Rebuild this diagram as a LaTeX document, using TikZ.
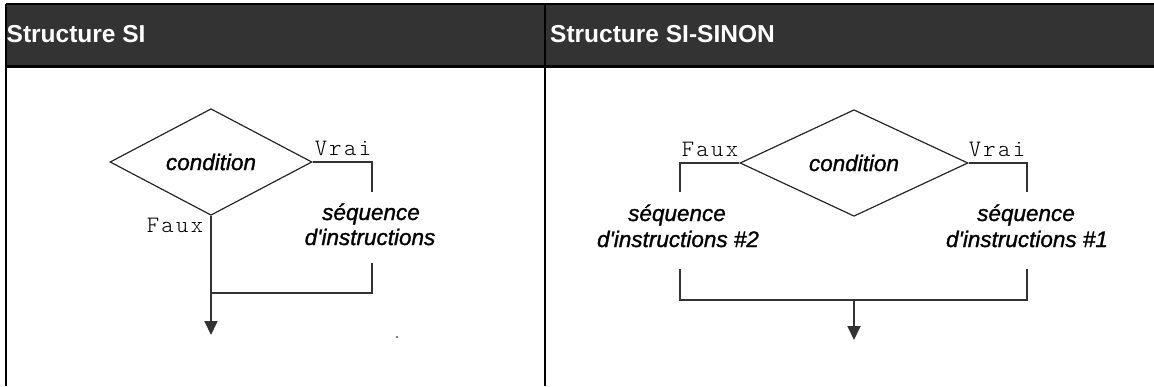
\documentclass[tikz,border=0pt]{standalone}
\usepackage{fontspec}
\usetikzlibrary{arrows.meta,shapes.geometric}
\newfontfamily\hdrfont{Liberation Sans}
\newfontfamily\labfont[ItalicFeatures={FakeBold=1.2}]{Liberation Sans}
\newfontfamily\monofont[LetterSpace=10]{lmmonolt10-regular.otf}
\definecolor{hdrgray}{HTML}{333333}
\definecolor{linegray}{HTML}{333333}
\tikzset{
  border/.style={draw=black,line width=2pt},
  hdrtext/.style={anchor=base west,inner sep=0pt,text=white,font=\hdrfont\bfseries\fontsize{24.5}{28}\selectfont},
  cond/.style={diamond,draw=black!85,line width=1.2pt,inner sep=0pt,font=\labfont\itshape\fontsize{22.5}{26}\selectfont},
  seqtext/.style={anchor=base,inner sep=0pt,font=\labfont\itshape\fontsize{22.5}{26}\selectfont},
  monolab/.style={anchor=base,inner sep=0pt,font=\monofont\fontsize{23.5}{26}\selectfont},
  flow/.style={draw=linegray,line width=1.8pt},
  flowarrow/.style={flow,-{Triangle[length=14pt,width=13pt]}}
}
\begin{document}
\begin{tikzpicture}[x=1pt,y=-1pt]
\useasboundingbox (0,0) rectangle (1154,386);
% table
\fill[hdrgray] (5.7,5.3) rectangle (1154,66.3);
\draw[border] (5.7,4.3) -- (1154,4.3);
\draw[border] (5.7,4.3) -- (5.7,386);
\draw[border] (544.8,4.3) -- (544.8,386);
\draw[border,line width=2.5pt] (5.7,66.3) -- (1154,66.3);
\node[hdrtext] (h1) at (6.5,42) {Structure SI};
\node[hdrtext] (h2) at (550,42) {Structure SI-SINON};
% ---- Structure SI
\node[cond,minimum width=202pt,minimum height=98pt] (d1) at (211,162) {condition};
\node[monolab] (vrai1) at (343,155) {Vrai};
\node[monolab] (faux1) at (175,232) {Faux};
\node[seqtext] (s1a) at (371,220) {séquence};
\node[seqtext] (s1b) at (370,245) {d'instructions};
\coordinate (v1) at (372,192);
\coordinate (w1) at (372,263);
\coordinate (j1) at (211,293);
\coordinate (a1) at (211,335);
\draw[flow] (d1.east) -| (v1);
\draw[flow] (w1) |- (j1);
\draw[flowarrow] (d1.south) -- (a1);
\fill[black] (397,337) circle (0.9);
% ---- Structure SI-SINON
\node[cond,minimum width=228pt,minimum height=100pt] (d2) at (854,163) {condition};
\node[monolab] (faux2) at (710,156) {Faux};
\node[monolab] (vrai2) at (997,156) {Vrai};
\node[seqtext] (s2a) at (677,221) {séquence};
\node[seqtext] (s2b) at (678,247) {d'instructions \#2};
\node[seqtext] (s3a) at (1026,221) {séquence};
\node[seqtext] (s3b) at (1027,247) {d'instructions \#1};
\coordinate (v2l) at (680,192);
\coordinate (v2r) at (1027,192);
\coordinate (w2l) at (680,269);
\coordinate (w2r) at (1027,269);
\coordinate (j2) at (854,300);
\coordinate (a2) at (854,340);
\draw[flow] (d2.west) -| (v2l);
\draw[flow] (d2.east) -| (v2r);
\draw[flow] (w2l) |- (j2) -| (w2r);
\draw[flowarrow] (j2) -- (a2);
\end{tikzpicture}
\end{document}
